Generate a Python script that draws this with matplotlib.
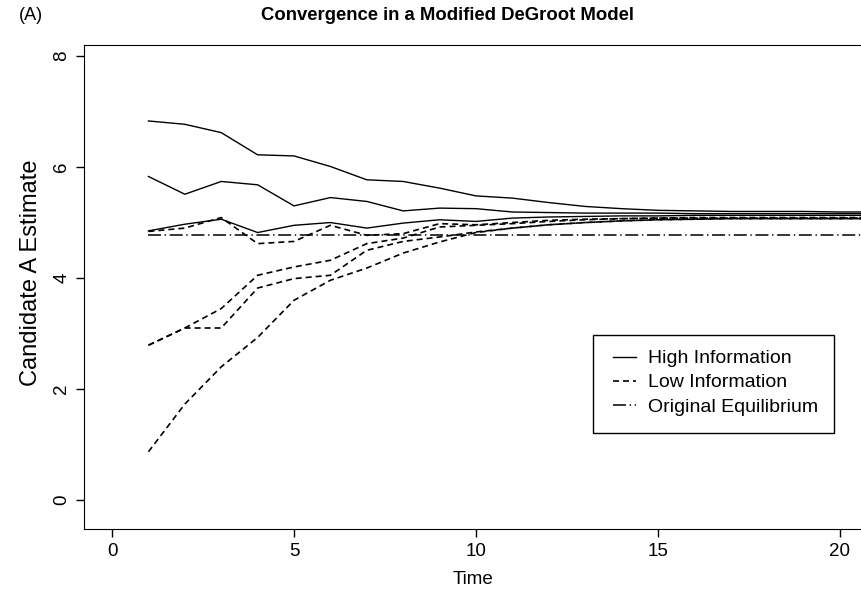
import numpy as np
import matplotlib
matplotlib.use("Agg")
import matplotlib.pyplot as plt
from matplotlib.patches import Rectangle

plt.rcParams['font.family'] = ['Liberation Sans', 'DejaVu Sans']

# time steps
time = [1, 2, 3, 4, 5, 6, 7, 8, 9, 10, 11, 12, 13, 14, 15, 16, 17, 18, 19, 20, 21]

# high information agents (solid lines)
high_7 = [6.83, 6.77, 6.62, 6.22, 6.20, 6.01, 5.77, 5.74, 5.62, 5.48, 5.44,
          5.36, 5.29, 5.25, 5.22, 5.21, 5.20, 5.20, 5.20, 5.19, 5.19]
high_6 = [5.83, 5.51, 5.74, 5.68, 5.30, 5.45, 5.38, 5.21, 5.26, 5.25, 5.19,
          5.18, 5.17, 5.17, 5.17, 5.16, 5.16, 5.16, 5.16, 5.16, 5.16]
high_5 = [4.85, 4.97, 5.06, 4.82, 4.95, 5.00, 4.90, 4.99, 5.05, 5.02, 5.08,
          5.10, 5.11, 5.12, 5.12, 5.13, 5.13, 5.13, 5.13, 5.13, 5.13]

# low information agents (dashed lines)
low_5 = [4.84, 4.90, 5.09, 4.62, 4.66, 4.95, 4.77, 4.80, 4.98, 4.96, 5.00,
         5.04, 5.06, 5.07, 5.08, 5.08, 5.08, 5.08, 5.08, 5.08, 5.08]
low_3a = [2.79, 3.10, 3.45, 4.05, 4.20, 4.32, 4.62, 4.72, 4.92, 4.95, 4.98,
          5.02, 5.05, 5.07, 5.08, 5.09, 5.09, 5.09, 5.09, 5.09, 5.09]
low_3b = [2.79, 3.10, 3.10, 3.82, 3.99, 4.05, 4.50, 4.66, 4.74, 4.83, 4.90,
          4.96, 5.00, 5.03, 5.05, 5.06, 5.07, 5.07, 5.07, 5.07, 5.07]
low_1 = [0.87, 1.73, 2.40, 2.93, 3.60, 3.96, 4.18, 4.45, 4.65, 4.82, 4.90,
         4.96, 5.00, 5.03, 5.05, 5.06, 5.07, 5.07, 5.07, 5.07, 5.07]

# original equilibrium
equilibrium = 4.77

fig = plt.figure(figsize=(8.61, 5.91), dpi=100)
ax = fig.add_axes([0.0976, 0.105, 0.9024, 0.819])

dash = (0, (3.6, 2.4))
dashdot = (0, (8.5, 2.4, 0.9, 2.4))

for i, y in enumerate([high_7, high_6, high_5]):
    ax.plot(time, y, color='black', linewidth=1.0, linestyle='-',
            label='High Information' if i == 0 else None)
for i, y in enumerate([low_5, low_3a, low_3b, low_1]):
    ax.plot(time, y, color='black', linewidth=1.2, linestyle=dash,
            label='Low Information' if i == 0 else None)
ax.plot([time[0], time[-1]], [equilibrium, equilibrium], color='black',
        linewidth=1.1, linestyle=dashdot, label='Original Equilibrium')

ax.set_xlim(-0.77, 20.58)
ax.set_ylim(-0.52, 8.2)
ax.set_xticks([0, 5, 10, 15, 20])
ax.set_yticks([0, 2, 4, 6, 8])
ax.tick_params(direction='out', length=6, width=1, labelsize=13.5, pad=4)
for lab in ax.get_yticklabels():
    lab.set_rotation(90)
    lab.set_va('center')
ax.spines['right'].set_visible(False)

ax.set_xlabel('Time', fontsize=13.5, labelpad=8)
ax.set_ylabel('Candidate A Estimate', fontsize=17)
ax.yaxis.set_label_coords(-0.054, 0.53)

fig.text(0.52, 0.973, 'Convergence in a Modified DeGroot Model', ha='center',
         va='center', fontsize=13.3, fontweight='bold')
fig.text(0.022, 0.973, '(A)', ha='left', va='center', fontsize=13)

# legend box drawn separately (Stata style)
ax.add_patch(Rectangle((0.655, 0.198), 0.31, 0.203, transform=ax.transAxes,
                       facecolor='white', edgecolor='black', linewidth=1.0,
                       zorder=5))
leg = ax.legend(loc='upper left', bbox_to_anchor=(0.681, 0.370), fontsize=14,
                frameon=False, handlelength=1.15, handletextpad=0.65,
                labelspacing=0.33, borderpad=0, borderaxespad=0)
leg.set_zorder(6)

fig.savefig('out.png', dpi=100)
